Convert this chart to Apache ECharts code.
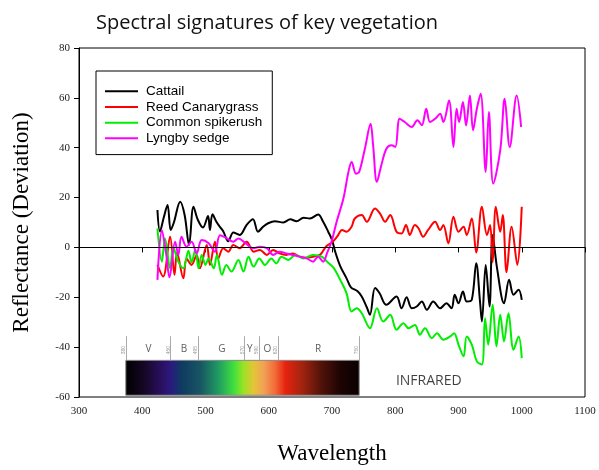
<!DOCTYPE html>
<html>
<head>
<meta charset="utf-8">
<script src="https://cdn.jsdelivr.net/npm/echarts@6.0.0/dist/echarts.min.js"></script>
<style>
html, body { margin: 0; padding: 0; background: #fff; }
#chart { width: 599px; height: 470px; }
</style>
</head>
<body>
<div id="chart"></div>
<script>
// wavelengths (nm) and deviation values
const cattailWl = [424, 428, 434, 440, 445, 450, 460, 467, 474, 481, 488, 496, 504, 507, 511, 517, 522, 528, 536, 544, 554, 565, 575, 583, 591, 599, 610, 623, 634, 644, 655, 665, 678, 686, 694, 700, 705, 713, 723, 730, 740, 747, 755, 760, 768, 775, 786, 802, 810, 818, 826, 834, 842, 850, 860, 871, 881, 889, 894, 900, 907, 913, 921, 928, 934, 937, 943, 949, 954, 961, 972, 980, 987, 995, 1000]
const cattailVal = [15, 6.4, 12, 17, 7, 10, 18.3, 13, 1, 16.3, 11, 8, 12.6, 7, 13.3, 10.4, 8.5, 6.5, 2.5, 6, 5, 9, 11.3, 6.3, 8.3, 9.7, 10.5, 10, 11.3, 10.5, 11.9, 11.6, 13.2, 10.3, 6.3, 3, -1.7, -7.5, -12.4, -16, -17.5, -19.7, -24, -27, -16.3, -18.3, -23, -19.7, -24.4, -20, -24.4, -23.7, -21.7, -25, -21.7, -24.4, -22.4, -24.4, -19, -22.4, -17.7, -21.7, -21, -6.3, -21.7, -29.7, -7, -23.7, 5, -8.4, -22.4, -13, -19, -17, -21]

const reedWl = [424, 433, 444, 451, 455, 465, 470, 478, 486, 491, 502, 507, 515, 520, 528, 536, 544, 554, 565, 576, 586, 597, 607, 617, 628, 638, 649, 660, 670, 681, 691, 700, 708, 716, 723, 731, 736, 747, 755, 768, 776, 784, 792, 802, 810, 817, 823, 831, 837, 844, 852, 863, 871, 876, 884, 892, 900, 908, 913, 921, 928, 937, 945, 950, 954, 959, 966, 970, 976, 984, 993, 1000]
const reedVal = [-7, -11.7, 4.3, -11, -2, -12.4, -4.4, -7, -3, -8.4, 1, -7, 2.3, -4.4, -0.3, -1.7, 1, -0.3, 2.3, -1.7, -1, -3, -1, -2.4, -3, -2.4, -3.7, -4.1, -3.7, -3, 0.5, 2, 4.3, 7, 6.3, 8.3, 11.6, 13, 10.3, 15.6, 13.6, 10.3, 13, 6.3, 5.6, 9, 5, 9, 7.6, 4.3, 7, 10.3, 7, 9, 1.6, 12.3, 6.3, 8.3, 5, 11.6, -2, 16.3, 5, 9, -6, 16.3, 6.3, 13, -10, 8.3, -7, 16.3]

const spikeWl = [424, 431, 436, 444, 449, 457, 465, 473, 478, 484, 489, 494, 500, 505, 513, 518, 526, 533, 541, 552, 560, 568, 576, 585, 594, 604, 612, 620, 631, 642, 655, 670, 684, 692, 702, 713, 723, 731, 739, 747, 760, 771, 781, 792, 802, 813, 821, 831, 839, 847, 858, 866, 876, 887, 893, 900, 908, 913, 921, 929, 937, 942, 947, 954, 960, 966, 972, 979, 987, 995, 1000]
const spikeVal = [7.6, -5.7, 3.6, -8.4, 0, -5.7, -8.4, -1.3, -6, -0.7, -8.4, -3, -7, -4.4, -8.4, -3, -11, -7, -9.7, -5, -9.7, -3.7, -7.7, -4.4, -7, -4.4, -6.4, -3.7, -5, -3, -4.4, -3, -3.7, -5.7, -8, -13, -18.4, -25.7, -24.4, -26.4, -32.4, -24.4, -29.7, -27, -33, -30.4, -32.4, -31.1, -35, -32.4, -36.4, -34.4, -37, -35.7, -34.4, -39, -43.7, -35.7, -39, -45.7, -47, -28.4, -39, -23, -39.7, -27, -37.7, -26.4, -41, -35.7, -44.4]

const sedgeWl = [424, 431, 438, 443, 452, 457, 462, 470, 478, 486, 494, 505, 515, 523, 534, 544, 552, 563, 576, 586, 597, 607, 617, 628, 638, 649, 660, 670, 678, 686, 692, 700, 707, 718, 726, 731, 738, 743, 752, 761, 765, 771, 778, 786, 794, 800, 807, 815, 826, 835, 842, 849, 855, 863, 871, 876, 885, 892, 897, 901, 907, 912, 918, 923, 929, 935, 943, 948, 955, 966, 973, 981, 992, 999]
const sedgeVal = [-13, 6.9, -3, -12, 2.3, -3, 4.3, 0.3, 2.3, -2.4, 3, 1.7, -1.7, 4.9, 3.6, 2.3, 3.6, 1.7, -0.3, 0.3, -0.3, -3, -1.7, -2.4, -3, -3.7, -4.4, -5.7, -3.7, -5.7, -2.4, 3, 10, 19.6, 30.3, 34.3, 29.6, 30.3, 39.6, 49.6, 41, 26.3, 33, 39.6, 41, 40.3, 51.6, 50.3, 48.3, 51, 49, 55.6, 50.3, 51.6, 53.6, 50.3, 58.9, 40.3, 55.6, 50.3, 58.3, 48.9, 60.9, 47, 55.6, 61.6, 30.3, 54.3, 25.6, 39, 59.6, 40.3, 60.9, 48.3]

const seriesNames = ['Cattail', 'Reed Canarygrass', 'Common spikerush', 'Lyngby sedge']
const seriesColors = ['#000000', '#ff0000', '#00ee00', '#ff00ff']

// visible spectrum strip
const bandLetters = ['V', 'B', 'G', 'Y', 'O', 'R']
const bandLetterWl = [410, 466, 526, 570, 598, 678]
const bandEdgeWl = [374, 445, 489, 562, 585, 615, 743]
const bandEdgeText = ['380', '450', '495', '570', '590', '620', '750']
const stripStart = 374
const stripEnd = 743
const stripTop = -45.3
const stripBottom = -59.3

function zip(xs, ys) {
  return xs.map((x, i) => [x, ys[i]])
}

const chart = echarts.init(document.getElementById('chart'))

const spectrumStops = [
  [374, '#000000'], [400, '#12061f'], [430, '#2a0f5e'], [446, '#2b1a80'],
  [462, '#0f3a62'], [492, '#185563'], [520, '#1f9a62'], [545, '#3fe03e'],
  [560, '#9ae224'], [576, '#e4c436'], [592, '#f2a156'], [610, '#f26a38'],
  [626, '#e6230f'], [652, '#a3240f'], [682, '#521309'], [712, '#1e0404'], [743, '#0a0000']
].map(s => ({ offset: (s[0] - stripStart) / (stripEnd - stripStart), color: s[1] }))

const lineSeries = seriesNames.map((name, i) => ({
  name: name,
  type: 'line',
  data: zip([cattailWl, reedWl, spikeWl, sedgeWl][i], [cattailVal, reedVal, spikeVal, sedgeVal][i]),
  showSymbol: false,
  smooth: 0.35,
  lineStyle: { color: seriesColors[i], width: 2 },
  itemStyle: { color: seriesColors[i] },
  z: 3
}))

// zero line
lineSeries[0].markLine = {
  silent: true,
  symbol: 'none',
  label: { show: false },
  lineStyle: { color: '#000', width: 1, type: 'solid' },
  data: [{ yAxis: 0 }]
}

const option = {
  animation: false,
  title: {
    text: 'Spectral signatures of key vegetation',
    left: 262,
    top: 8,
    textAlign: 'center',
    textStyle: { fontFamily: 'Open Sans', fontWeight: 'normal', fontSize: 20, color: '#111' }
  },
  grid: {
    left: 79, right: 14, top: 48, bottom: 71,
    show: true, borderColor: '#000', borderWidth: 1
  },
  legend: {
    data: seriesNames,
    orient: 'vertical',
    left: 96,
    top: 71,
    padding: [13, 10, 9, 9],
    itemGap: 1.2,
    itemWidth: 33,
    itemHeight: 2,
    icon: 'rect',
    borderColor: '#000',
    borderWidth: 1,
    textStyle: { fontFamily: 'Liberation Sans', fontSize: 13.5, lineHeight: 14.5, color: '#000', padding: [0, 0, 0, 3] }
  },
  xAxis: {
    type: 'value',
    min: 300,
    max: 1100,
    interval: 100,
    name: 'Wavelength',
    nameLocation: 'middle',
    nameGap: 45,
    nameTextStyle: { fontFamily: 'Liberation Serif', fontSize: 23, color: '#000' },
    axisLine: { lineStyle: { color: '#000' } },
    axisTick: { show: true, length: 5, lineStyle: { color: '#000' } },
    axisLabel: { fontFamily: 'Liberation Serif', fontSize: 11, color: '#222', margin: 9, formatter: v => String(v) },
    splitLine: { show: false }
  },
  yAxis: {
    type: 'value',
    min: -60,
    max: 80,
    interval: 20,
    name: 'Reflectance (Deviation)',
    nameLocation: 'middle',
    nameGap: 46,
    nameTextStyle: { fontFamily: 'Liberation Serif', fontSize: 23, color: '#000' },
    axisLine: { show: true, lineStyle: { color: '#000' } },
    axisTick: { show: true, length: 5, lineStyle: { color: '#000' } },
    axisLabel: { fontFamily: 'Liberation Serif', fontSize: 11, color: '#222', margin: 9 },
    splitLine: { show: false }
  },
  series: lineSeries.concat([
    {
      name: 'bands',
      type: 'scatter',
      symbolSize: 0,
      silent: true,
      z: 2,
      data: bandLetters.map((t, i) => ({ value: [bandLetterWl[i], -40.7], name: t })),
      label: {
        show: true,
        position: 'inside',
        formatter: p => p.name,
        fontFamily: 'Open Sans',
        fontSize: 10,
        color: '#333'
      },
      markArea: {
        silent: true,
        itemStyle: {
          color: { type: 'linear', x: 0, y: 0, x2: 1, y2: 0, colorStops: spectrumStops },
          borderColor: '#888',
          borderWidth: 1
        },
        data: [[{ coord: [stripStart, stripTop] }, { coord: [stripEnd, stripBottom] }]]
      },
      markLine: {
        silent: true,
        symbol: 'none',
        lineStyle: { color: '#aaa', width: 1, type: 'solid' },
        label: {
          show: true,
          position: 'start',
          formatter: p => p.name,
          fontSize: 5,
          color: '#999',
          rotate: 90,
          distance: [2, -14]
        },
        data: bandEdgeWl.map((w, i) => [
          { coord: [w, -35.6], name: bandEdgeText[i] },
          { coord: [w, stripTop] }
        ])
      }
    },
    {
      name: 'infrared',
      type: 'scatter',
      symbolSize: 0,
      silent: true,
      data: [{ value: [853, -53.4], name: 'INFRARED' }],
      label: {
        show: true,
        position: 'inside',
        formatter: p => p.name,
        fontFamily: 'Open Sans',
        fontSize: 14,
        color: '#111'
      }
    }
  ])
}

chart.setOption(option)
</script>
</body>
</html>
